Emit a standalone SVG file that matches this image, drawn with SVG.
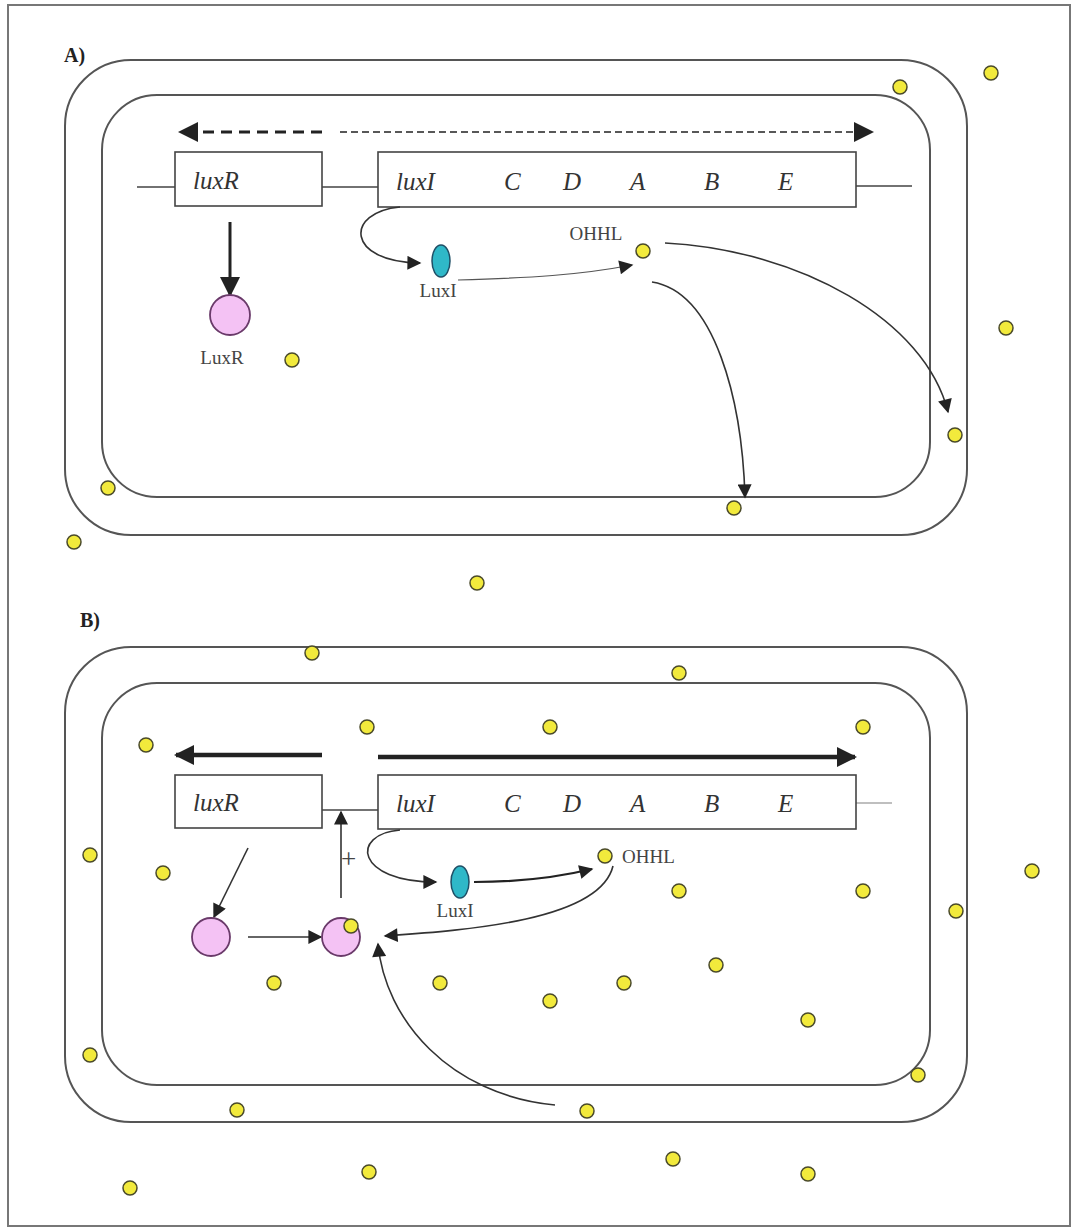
<svg xmlns="http://www.w3.org/2000/svg" width="1077" height="1231" viewBox="0 0 1077 1231">
<style>
.cell{fill:none;stroke:#555;stroke-width:2}
.gene{fill:#fff;stroke:#444;stroke-width:1.6}
.dna{stroke:#444;stroke-width:1.6;fill:none}
.gt{font-family:"Liberation Serif",serif;font-style:italic;font-size:25px;fill:#333}
.lb{font-family:"Liberation Serif",serif;font-size:19px;fill:#444}
.pl{font-family:"Liberation Serif",serif;font-weight:bold;font-size:20px;fill:#222}
.ohhl{fill:#f2ea3c;stroke:#4a4a2a;stroke-width:1.5}
.luxr{fill:#f4c2f4;stroke:#6a3a6a;stroke-width:1.8}
.luxi{fill:#2fb8c8;stroke:#1f4f66;stroke-width:1.5}
.c{fill:none;stroke:#333;stroke-width:1.6}
</style>
<defs>
<marker id="ah" viewBox="0 0 10 10" refX="9" refY="5" markerWidth="16" markerHeight="14" markerUnits="userSpaceOnUse" orient="auto"><path d="M0,0 L10,5 L0,10 Z" fill="#222"/></marker>
<marker id="ahb" viewBox="0 0 10 10" refX="9" refY="5" markerWidth="22" markerHeight="20" markerUnits="userSpaceOnUse" orient="auto"><path d="M0,0 L10,5 L0,10 Z" fill="#222"/></marker>
<circle id="d" r="7" class="ohhl"/>
</defs>
<rect x="8" y="5" width="1062" height="1221" fill="#fff" stroke="#777" stroke-width="2"/>

<text class="pl" x="64" y="62">A)</text>
<text class="pl" x="80" y="627">B)</text>

<g id="cellA">
<rect class="cell" x="65" y="60" width="902" height="475" rx="66"/>
<rect class="cell" x="102" y="95" width="828" height="402" rx="55"/>
</g>
<g id="cellB">
<rect class="cell" x="65" y="647" width="902" height="475" rx="66"/>
<rect class="cell" x="102" y="683" width="828" height="402" rx="55"/>
</g>

<g id="dnaA">
<path class="dna" d="M137 187 H175 M322 187 H378 M856 186 H912"/>
</g>
<g id="luxR-geneA"><rect class="gene" x="175" y="152" width="147" height="54"/><text class="gt" x="193" y="189">luxR</text></g>
<g id="luxI-operonA"><rect class="gene" x="378" y="152" width="478" height="55"/>
<text class="gt" x="396" y="190">luxI</text><text class="gt" x="504" y="190">C</text><text class="gt" x="563" y="190">D</text><text class="gt" x="630" y="190">A</text><text class="gt" x="704" y="190">B</text><text class="gt" x="778" y="190">E</text></g>

<g id="dnaB">
<path class="dna" d="M322 810 H378"/>
<path d="M856 803 H892" stroke="#aaa" stroke-width="1.5"/>
</g>
<g id="luxR-geneB"><rect class="gene" x="175" y="775" width="147" height="53"/><text class="gt" x="193" y="811">luxR</text></g>
<g id="luxI-operonB"><rect class="gene" x="378" y="775" width="478" height="54"/>
<text class="gt" x="396" y="812">luxI</text><text class="gt" x="504" y="812">C</text><text class="gt" x="563" y="812">D</text><text class="gt" x="630" y="812">A</text><text class="gt" x="704" y="812">B</text><text class="gt" x="778" y="812">E</text></g>

<g id="connectors">
<path d="M322 132 H180" stroke="#222" stroke-width="3" stroke-dasharray="11 7" fill="none" marker-end="url(#ahb)"/>
<path d="M340 132 H872" stroke="#222" stroke-width="1.6" stroke-dasharray="7 4" fill="none" marker-end="url(#ahb)"/>
<path d="M230 222 V295" stroke="#222" stroke-width="3" fill="none" marker-end="url(#ahb)"/>
<path class="c" d="M400 207 C345 212 345 262 420 263" marker-end="url(#ah)"/>
<path d="M458 280 C530 278 580 275 632 265" stroke="#555" stroke-width="1.2" fill="none" marker-end="url(#ah)"/>
<path class="c" d="M665 243 C800 250 925 320 948 412" marker-end="url(#ah)"/>
<path class="c" d="M652 282 C715 292 742 400 745 497" marker-end="url(#ah)"/>
<path d="M322 755 H176" stroke="#222" stroke-width="4.5" fill="none" marker-end="url(#ahb)"/>
<path d="M378 757 H855" stroke="#222" stroke-width="4.5" fill="none" marker-end="url(#ahb)"/>
<path class="c" d="M248 848 L214 917" marker-end="url(#ah)"/>
<path class="c" d="M248 937 L321 937" marker-end="url(#ah)"/>
<path class="c" d="M341 898 L341 812" marker-end="url(#ah)"/>
<path class="c" d="M400 830 C350 834 355 882 436 882" marker-end="url(#ah)"/>
<path d="M474 882 C520 882 555 878 592 869" stroke="#222" stroke-width="2.2" fill="none" marker-end="url(#ah)"/>
<path class="c" d="M613 866 C600 920 470 930 385 936" marker-end="url(#ah)"/>
<path class="c" d="M555 1105 C450 1095 385 1020 378 944" marker-end="url(#ah)"/>
<text class="lb" x="341" y="868" style="font-size:27px">+</text>
</g>

<g id="LuxR-A"><circle class="luxr" cx="230" cy="315" r="20"/><text class="lb" x="222" y="364" text-anchor="middle">LuxR</text></g>
<g id="LuxI-A"><ellipse class="luxi" cx="441" cy="261" rx="9" ry="16"/><text class="lb" x="438" y="297" text-anchor="middle">LuxI</text></g>
<g id="OHHL-A"><text class="lb" x="596" y="240" text-anchor="middle">OHHL</text><use href="#d" x="643" y="251"/></g>

<g id="LuxR-B"><circle class="luxr" cx="211" cy="937" r="19"/></g>
<g id="LuxR-OHHL-B"><circle class="luxr" cx="341" cy="937" r="19"/><use href="#d" x="351" y="926"/></g>
<g id="LuxI-B"><ellipse class="luxi" cx="460" cy="882" rx="9" ry="16"/><text class="lb" x="455" y="917" text-anchor="middle">LuxI</text></g>
<g id="OHHL-B"><use href="#d" x="605" y="856"/><text class="lb" x="622" y="863">OHHL</text></g>

<g id="dots">
<use href="#d" x="292" y="360"/><use href="#d" x="900" y="87"/><use href="#d" x="991" y="73"/><use href="#d" x="1006" y="328"/>
<use href="#d" x="955" y="435"/><use href="#d" x="734" y="508"/><use href="#d" x="108" y="488"/><use href="#d" x="74" y="542"/><use href="#d" x="477" y="583"/>
<use href="#d" x="312" y="653"/><use href="#d" x="679" y="673"/><use href="#d" x="146" y="745"/><use href="#d" x="367" y="727"/><use href="#d" x="550" y="727"/><use href="#d" x="863" y="727"/>
<use href="#d" x="90" y="855"/><use href="#d" x="163" y="873"/><use href="#d" x="679" y="891"/><use href="#d" x="863" y="891"/><use href="#d" x="1032" y="871"/><use href="#d" x="956" y="911"/>
<use href="#d" x="274" y="983"/><use href="#d" x="440" y="983"/><use href="#d" x="550" y="1001"/><use href="#d" x="624" y="983"/><use href="#d" x="716" y="965"/><use href="#d" x="808" y="1020"/>
<use href="#d" x="90" y="1055"/><use href="#d" x="918" y="1075"/><use href="#d" x="237" y="1110"/><use href="#d" x="587" y="1111"/>
<use href="#d" x="130" y="1188"/><use href="#d" x="369" y="1172"/><use href="#d" x="673" y="1159"/><use href="#d" x="808" y="1174"/>
</g>
</svg>
